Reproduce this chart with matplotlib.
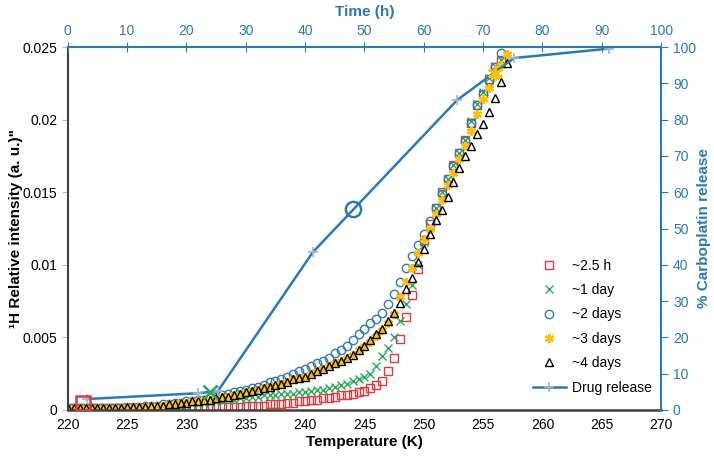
import matplotlib
matplotlib.use("Agg")
import matplotlib.pyplot as plt

plt.rcParams['font.family'] = ['Liberation Sans', 'DejaVu Sans']

# temperature grid (K)
temp = [220.0, 220.5, 221.0, 221.5, 222.0, 222.5, 223.0, 223.5, 224.0, 224.5,
        225.0, 225.5, 226.0, 226.5, 227.0, 227.5, 228.0, 228.5, 229.0, 229.5,
        230.0, 230.5, 231.0, 231.5, 232.0, 232.5, 233.0, 233.5, 234.0, 234.5,
        235.0, 235.5, 236.0, 236.5, 237.0, 237.5, 238.0, 238.5, 239.0, 239.5,
        240.0, 240.5, 241.0, 241.5, 242.0, 242.5, 243.0, 243.5, 244.0, 244.5,
        245.0, 245.5, 246.0, 246.5, 247.0, 247.5, 248.0, 248.5, 249.0, 249.5,
        250.0, 250.5, 251.0, 251.5, 252.0, 252.5, 253.0, 253.5, 254.0, 254.5,
        255.0, 255.5, 256.0, 256.5, 257.0]

int_2h = [.0001, .0001, .0001, .0001, .0001, .0001, .0001, .0001, .0001, .0001,
          .0001, .0001, .0001, .0001, .0001, .0001, .0001, .0001, .0001, .0001,
          .0002, .0002, .0002, .0002, .0002, .0002, .0002, .0002, .0002, .0002,
          .0003, .0003, .0003, .0003, .0004, .0004, .0004, .0005, .0005, .0006,
          .0006, .0007, .0007, .0008, .0008, .0009, .0010, .0010, .0011, .0012,
          .0013, .0015, .0017, .0020, .0027, .0036, .0049, .0064, .0079, .0097,
          .0117, .0128, .0139, .0150, .0159, .0169, .0177, .0186, .0198, .0210,
          .0218, .0228, .0236, .0241]

int_1d = [.0001, .0001, .0001, .0001, .0001, .0001, .0001, .0001, .0002, .0002,
          .0002, .0002, .0002, .0002, .0002, .0002, .0003, .0003, .0003, .0003,
          .0004, .0004, .0004, .0005, .0005, .0006, .0006, .0007, .0007, .0008,
          .0008, .0009, .0009, .0010, .0010, .0010, .0011, .0011, .0011, .0012,
          .0012, .0013, .0014, .0014, .0015, .0016, .0017, .0018, .0020, .0021,
          .0023, .0025, .0030, .0037, .0043, .0050, .0061, .0073, .0086, .0100,
          .0116, .0127, .0139, .0150, .0159, .0169, .0177, .0186, .0199, .0211,
          .0219, .0229, .0237, .0241]

int_2d = [.0001, .0001, .0001, .0001, .0001, .0001, .0001, .0001, .0001, .0001,
          .0002, .0002, .0002, .0003, .0003, .0003, .0004, .0004, .0005, .0005,
          .0006, .0006, .0007, .0007, .0008, .0009, .0010, .0011, .0012, .0013,
          .0014, .0015, .0016, .0017, .0019, .0020, .0021, .0023, .0025, .0027,
          .0028, .0030, .0032, .0034, .0036, .0039, .0041, .0044, .0048, .0052,
          .0056, .0060, .0063, .0067, .0073, .0080, .0088, .0098, .0106, .0114,
          .0121, .0130, .0139, .0149, .0159, .0168, .0177, .0185, .0198, .0210,
          .0218, .0227, .0236, .0246]

int_3d = [.0001, .0001, .0001, .0001, .0001, .0001, .0001, .0001, .0001, .0001,
          .0002, .0002, .0002, .0002, .0003, .0003, .0003, .0004, .0004, .0005,
          .0005, .0006, .0006, .0007, .0007, .0008, .0009, .0009, .0010, .0011,
          .0012, .0013, .0014, .0015, .0016, .0017, .0018, .0019, .0021, .0022,
          .0023, .0025, .0027, .0028, .0030, .0032, .0034, .0036, .0038, .0041,
          .0044, .0047, .0051, .0055, .0060, .0066, .0078, .0088, .0098, .0108,
          .0118, .0125, .0135, .0145, .0155, .0163, .0173, .0182, .0192, .0204,
          .0214, .0222, .0230, .0238, .0245]

int_4d = [.0001, .0001, .0001, .0001, .0001, .0001, .0001, .0001, .0001, .0001,
          .0002, .0002, .0002, .0002, .0003, .0003, .0003, .0004, .0004, .0005,
          .0005, .0006, .0006, .0007, .0007, .0008, .0009, .0009, .0010, .0011,
          .0012, .0013, .0014, .0015, .0016, .0017, .0018, .0019, .0021, .0022,
          .0023, .0025, .0027, .0028, .0030, .0032, .0034, .0036, .0038, .0041,
          .0044, .0048, .0052, .0056, .0061, .0067, .0074, .0083, .0091, .0102,
          .0111, .0121, .0131, .0138, .0147, .0157, .0167, .0175, .0182, .0190,
          .0197, .0205, .0215, .0226, .0239]

# drug release (time in h, % carboplatin released)
rel_time = [3.2, 22.0, 25.3, 41.3, 65.6, 75.2, 91.2]
rel_pct = [3.0, 4.6, 5.2, 43.5, 85.4, 97.0, 99.6]
# sampling times marked on the release curve
mark_time = [2.5, 24.0, 48.0, 72.0]
mark_pct = [2.0, 5.0, 55.3, 93.0]

RED = '#e0393e'
GREEN = '#2eaa5c'
BLUE = '#2e7bb8'
YELLOW = '#ffc000'
LINE = '#2a7ab8'
GREY = '#404040'

fig = plt.figure(figsize=(7.14, 4.58), dpi=100)
pos = [0.095, 0.105, 0.831, 0.792]
ax = fig.add_axes(pos)

ms = 5.5
ax.plot(temp[:len(int_2h)], int_2h, ls='none', marker='s', ms=ms, mfc='none', mec=RED, mew=1.0, label='~2.5 h')
ax.plot(temp[:len(int_1d)], int_1d, ls='none', marker='x', ms=ms, color=GREEN, mew=1.0, label='~1 day')
ax.plot(temp[:len(int_2d)], int_2d, ls='none', marker='o', ms=ms + 0.5, mfc='none', mec=BLUE, mew=1.0, label='~2 days')
ax.plot(temp[:len(int_3d)], int_3d, ls='none', marker=(6, 2, 0), ms=ms + 1, color=YELLOW, mew=1.6, label='~3 days')
ax.plot(temp[:len(int_4d)], int_4d, ls='none', marker='^', ms=ms, mfc='none', mec='black', mew=1.0, label='~4 days')

ax.set_xlim(220, 270)
ax.set_ylim(0, 0.025)
ax.set_xticks(range(220, 271, 5))
ax.set_yticks([0, 0.005, 0.01, 0.015, 0.02, 0.025])
ax.set_yticklabels(['0', '0.005', '0.01', '0.015', '0.02', '0.025'])
ax.tick_params(axis='x', length=0, labelsize=10, pad=6)
ax.tick_params(axis='y', length=4, color='#bbbbbb', labelsize=10)
ax.set_xlabel('Temperature (K)', fontsize=11, fontweight='bold', labelpad=2)
ax.set_ylabel('¹H Relative intensity (a. u.)"', fontsize=11, fontweight='bold', labelpad=0)
ax.spines['top'].set_visible(False)
ax.spines['right'].set_visible(False)
ax.spines['left'].set_color(GREY)
ax.spines['bottom'].set_color(GREY)
ax.spines['left'].set_linewidth(1.5)
ax.spines['bottom'].set_linewidth(1.8)

# second axes: time on top, release on the right
ax2 = fig.add_axes(pos, frameon=True)
ax2.patch.set_visible(False)
ax2.plot(rel_time, rel_pct, color=LINE, lw=1.8, marker='+', ms=7, mec='#9db5d8', mew=1.2, label='Drug release')
ax2.plot(mark_time[0], mark_pct[0], ls='none', marker='s', ms=10, mfc='none', mec=RED, mew=1.8)
ax2.plot(mark_time[1], mark_pct[1], ls='none', marker='x', ms=10, color=GREEN, mew=1.8)
ax2.plot(mark_time[2], mark_pct[2], ls='none', marker='o', ms=11, mfc='none', mec=LINE, mew=1.8)
ax2.plot(mark_time[3], mark_pct[3], ls='none', marker=(6, 2, 0), ms=11, color=YELLOW, mew=1.8)
ax2.set_xlim(0, 100)
ax2.set_ylim(0, 100)
ax2.xaxis.tick_top()
ax2.xaxis.set_label_position('top')
ax2.yaxis.tick_right()
ax2.yaxis.set_label_position('right')
ax2.set_xticks(range(0, 101, 10))
ax2.set_yticks(range(0, 101, 10))
ax2.tick_params(axis='x', colors=LINE, direction='inout', length=7, labelsize=10, pad=3)
ax2.tick_params(axis='y', colors=LINE, direction='out', length=5, labelsize=10)
ax2.set_xlabel('Time (h)', color=LINE, fontsize=11, fontweight='bold', labelpad=6)
ax2.set_ylabel('% Carboplatin release', color=LINE, fontsize=11, fontweight='bold', labelpad=1)
ax2.spines['left'].set_visible(False)
ax2.spines['bottom'].set_visible(False)
ax2.spines['top'].set_color(LINE)
ax2.spines['right'].set_color(LINE)
ax2.spines['top'].set_linewidth(1.5)
ax2.spines['right'].set_linewidth(1.5)

h1, l1 = ax.get_legend_handles_labels()
h2, l2 = ax2.get_legend_handles_labels()
ax2.legend(h1 + h2, l1 + l2, loc='lower right', bbox_to_anchor=(1.0, 0.015), frameon=False,
           fontsize=10, labelspacing=0.75, handlelength=2.4, handletextpad=0.4, borderaxespad=0.3)

fig.savefig('out.png', dpi=100)
